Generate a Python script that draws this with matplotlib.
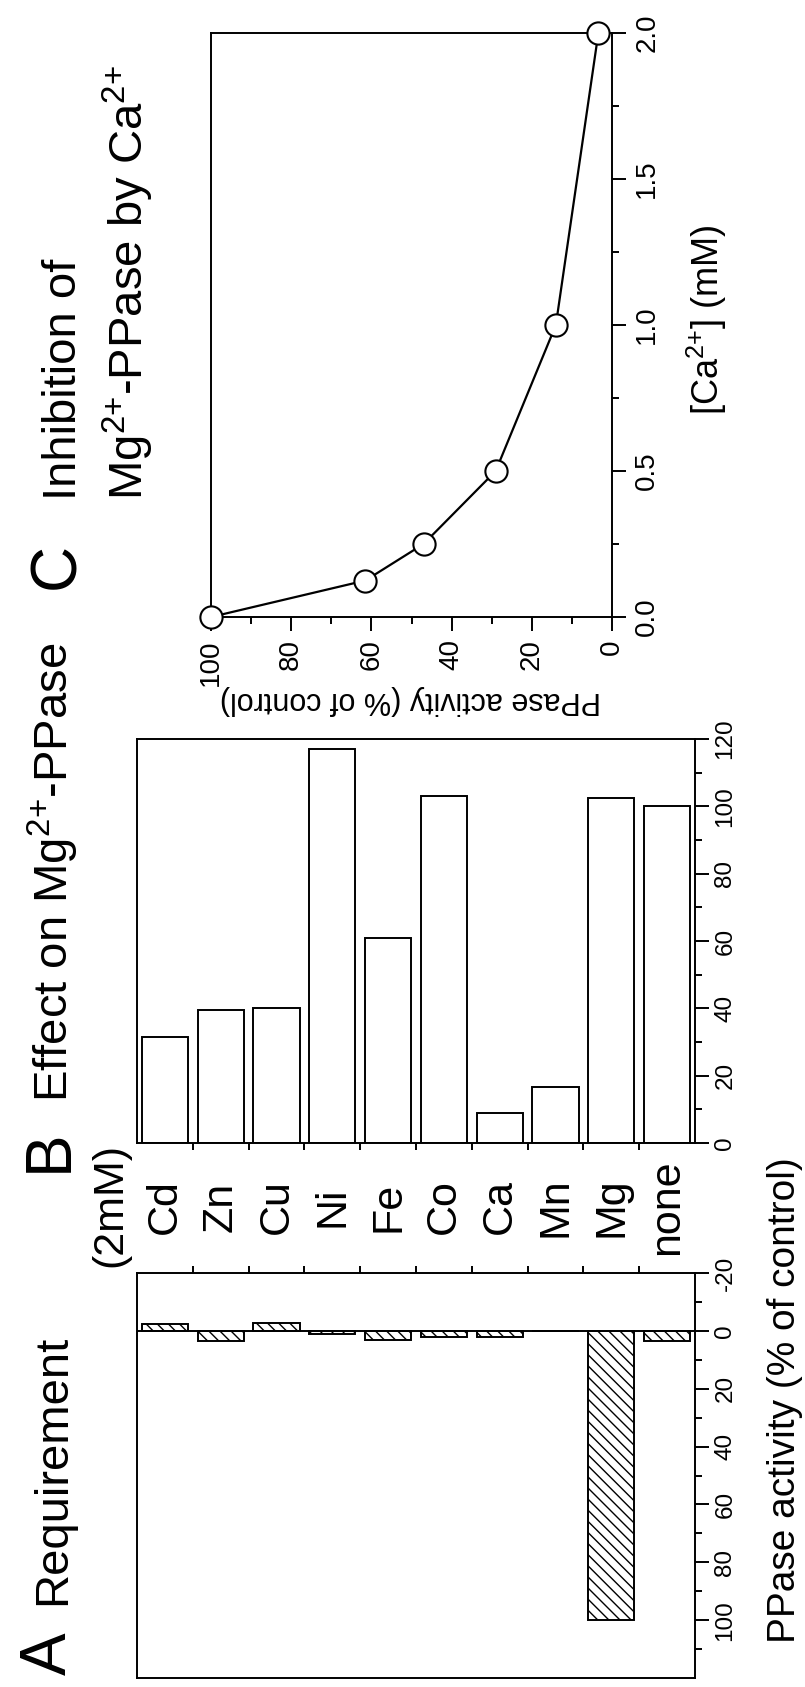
import matplotlib
matplotlib.use('Agg')
import matplotlib.pyplot as plt
from matplotlib.transforms import blended_transform_factory
from matplotlib.ticker import MultipleLocator, FixedLocator, FormatStrFormatter

plt.rcParams['font.family'] = ['Liberation Sans', 'DejaVu Sans']
plt.rcParams['mathtext.fontset'] = 'custom'
plt.rcParams['mathtext.rm'] = 'Liberation Sans'
plt.rcParams['mathtext.it'] = 'Liberation Sans:italic'
plt.rcParams['mathtext.bf'] = 'Liberation Sans:bold'
plt.rcParams['hatch.linewidth'] = 1.0
plt.rcParams['axes.unicode_minus'] = False

# ---------------- data ----------------
metals = ['Cd', 'Zn', 'Cu', 'Ni', 'Fe', 'Co', 'Ca', 'Mn', 'Mg', 'none']
req_activity = [-2.2, 3.5, -2.8, 1.0, 3.0, 2.2, 2.2, 0.0, 100.0, 3.5]
effect_activity = [31.5, 39.5, 40.0, 117.0, 61.0, 103.0, 9.0, 16.5, 102.5, 100.0]
ca_conc = [0.0, 0.125, 0.25, 0.5, 1.0, 2.0]
ca_activity = [100.0, 61.5, 47.0, 29.0, 14.0, 3.4]

W, H = 805, 1687
DPI = 100
fig = plt.figure(figsize=(W / DPI, H / DPI), dpi=DPI)


def rect(x0, y0, x1, y1):
    return [x0 / W, 1 - y1 / H, (x1 - x0) / W, (y1 - y0) / H]


def fx(x):
    return x / W


def fy(y):
    return 1 - y / H


LW = 1.4
SUP = r'^{2{+}}'

axC = fig.add_axes(rect(211, 33, 612, 617))
axB = fig.add_axes(rect(137, 739, 695, 1143))
axA = fig.add_axes(rect(137, 1273, 695, 1678))
for ax in (axA, axB, axC):
    for s in ax.spines.values():
        s.set_linewidth(LW)

xpos = list(range(len(metals)))
bounds = [i + 0.5 for i in range(len(metals) - 1)]

# ---------------- panel B ----------------
axB.bar(xpos, effect_activity, width=0.83, color='white', edgecolor='black', linewidth=LW)
axB.set_xlim(-0.5, len(metals) - 0.5)
axB.set_ylim(0, 120)
axB.xaxis.set_major_locator(FixedLocator(bounds))
axB.tick_params(axis='x', which='major', direction='out', length=5, width=LW,
                bottom=True, top=False, labelbottom=False)
axB.yaxis.tick_right()
axB.yaxis.set_major_locator(MultipleLocator(20))
axB.yaxis.set_minor_locator(MultipleLocator(10))
axB.tick_params(axis='y', which='both', direction='out', right=True, left=False, width=LW)
axB.tick_params(axis='y', which='major', length=10, labelsize=17.5, pad=4, labelrotation=90)
axB.tick_params(axis='y', which='minor', length=5)
for lab in axB.get_yticklabels():
    lab.set_va('center')

# ---------------- panel A ----------------
axA.bar(xpos, req_activity, width=0.83, color='white', edgecolor='black', linewidth=LW,
        hatch='\\\\\\')
axA.axhline(0, color='black', lw=LW)
axA.set_xlim(-0.5, len(metals) - 0.5)
axA.set_ylim(120, -20)
axA.xaxis.tick_top()
axA.xaxis.set_major_locator(FixedLocator(bounds))
axA.tick_params(axis='x', which='major', direction='out', length=5, width=LW,
                top=True, bottom=False, labeltop=False, labelbottom=False)
axA.yaxis.tick_right()
axA.yaxis.set_major_locator(FixedLocator(list(range(-20, 101, 20))))
axA.yaxis.set_minor_locator(FixedLocator(list(range(-10, 111, 20))))
axA.tick_params(axis='y', which='both', direction='out', right=True, left=False, width=LW)
axA.tick_params(axis='y', which='major', length=10, labelsize=17.5, pad=4, labelrotation=90)
axA.tick_params(axis='y', which='minor', length=5)
for lab in axA.get_yticklabels():
    lab.set_va('center')

# ---------------- panel C ----------------
axC.plot(ca_activity, ca_conc, '-', color='black', lw=1.6, marker='o', ms=16,
         mfc='white', mec='black', mew=1.5, clip_on=False, zorder=5)
axC.set_xlim(100, 0)
axC.set_ylim(0, 2)
axC.xaxis.set_major_locator(MultipleLocator(20))
axC.xaxis.set_minor_locator(MultipleLocator(10))
axC.tick_params(axis='x', which='both', direction='out', bottom=True, top=False, width=LW)
axC.tick_params(axis='x', which='major', length=10, labelsize=20, pad=6, labelrotation=90)
axC.tick_params(axis='x', which='minor', length=5)
axC.yaxis.tick_right()
axC.yaxis.set_major_locator(MultipleLocator(0.5))
axC.yaxis.set_minor_locator(MultipleLocator(0.25))
axC.yaxis.set_major_formatter(FormatStrFormatter('%.1f'))
axC.tick_params(axis='y', which='both', direction='out', right=True, left=False, width=LW)
axC.tick_params(axis='y', which='major', length=10, labelsize=20, pad=6, labelrotation=90)
axC.tick_params(axis='y', which='minor', length=5)
for lab in axC.get_yticklabels():
    lab.set_va('center')

# axis labels
fig.text(fx(410), fy(700), 'PPase activity (% of control)', rotation=180,
         ha='center', va='center', fontsize=22)
fig.text(fx(707), fy(320), r'[Ca$' + SUP + r'$] (mM)', rotation=90,
         ha='center', va='center', fontsize=26)
fig.text(fx(785), fy(1400), 'PPase activity (% of control)', rotation=90,
         ha='center', va='center', fontsize=28)

# category labels
trB = blended_transform_factory(axB.transData, fig.transFigure)
for i, m in enumerate(metals):
    axB.text(i, fy(1207), m, transform=trB, rotation=90, ha='center', va='center',
             fontsize=31, clip_on=False)
fig.text(fx(110), fy(1205), '(2mM)', rotation=90, ha='center', va='center', fontsize=31)

# titles
tkw = dict(rotation=90, rotation_mode='anchor', ha='left', va='baseline')
fig.text(fx(66), fy(1675), 'A', fontsize=46, **tkw)
fig.text(fx(65), fy(1605), 'Requirement', fontsize=34, **tkw)
fig.text(fx(67), fy(1172), 'B', fontsize=46, **tkw)
fig.text(fx(68), fy(1102), r'Effect on $\mathrm{Mg}' + SUP + r'$-PPase', fontsize=34, **tkw)
fig.text(fx(74), fy(589), 'C', fontsize=46, **tkw)
fig.text(fx(76), fy(500), 'Inhibition of', fontsize=34, **tkw)
fig.text(fx(143), fy(500), r'$\mathrm{Mg}' + SUP + r'$-PPase by $\mathrm{Ca}' + SUP + r'$',
         fontsize=34, **tkw)

fig.savefig('out.png', dpi=DPI)
